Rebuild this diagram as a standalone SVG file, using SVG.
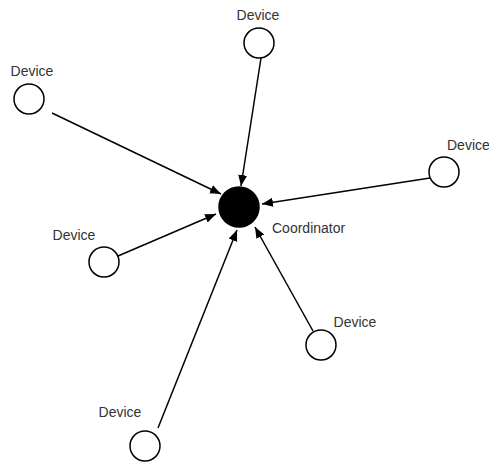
<svg xmlns="http://www.w3.org/2000/svg" width="489" height="462" viewBox="0 0 489 462">
  <style>
    .device { fill: #ffffff; stroke: #000000; stroke-width: 1.5; }
    .coord { fill: #000000; stroke: #000000; stroke-width: 1.5; }
    .label { font-family: "Liberation Sans", Arial, sans-serif; font-size: 14px; fill: #333333; }
    .link { stroke: #000000; stroke-width: 1.5; fill: none; marker-end: url(#arrow); }
  </style>
  <defs>
    <marker id="arrow" markerUnits="userSpaceOnUse" markerWidth="12" markerHeight="10" refX="11" refY="4.5" orient="auto">
      <path d="M0,0 L11,4.5 L0,9 Z" fill="#000000"/>
    </marker>
  </defs>
  <rect width="489" height="462" fill="#ffffff"/>

  <g id="connectors">
    <line class="link" x1="261" y1="58" x2="241" y2="186"/>
    <line class="link" x1="52" y1="113" x2="221" y2="194"/>
    <line class="link" x1="430" y1="178" x2="262" y2="204"/>
    <line class="link" x1="118" y1="256" x2="216" y2="214"/>
    <line class="link" x1="313" y1="331" x2="255" y2="227"/>
    <line class="link" x1="158" y1="428" x2="237" y2="230"/>
  </g>

  <g id="coordinator">
    <circle class="coord" cx="239" cy="207" r="20"/>
    <text class="label" x="272" y="233">Coordinator</text>
  </g>

  <g id="device-top">
    <circle class="device" cx="259" cy="43" r="15"/>
    <text class="label" x="258" y="20" text-anchor="middle">Device</text>
  </g>

  <g id="device-upper-left">
    <circle class="device" cx="29" cy="99" r="15"/>
    <text class="label" x="32" y="76" text-anchor="middle">Device</text>
  </g>

  <g id="device-right">
    <circle class="device" cx="444" cy="172" r="15"/>
    <text class="label" x="447" y="150">Device</text>
  </g>

  <g id="device-left">
    <circle class="device" cx="104" cy="262" r="15"/>
    <text class="label" x="74" y="240" text-anchor="middle">Device</text>
  </g>

  <g id="device-lower-right">
    <circle class="device" cx="321" cy="345" r="15"/>
    <text class="label" x="355" y="327" text-anchor="middle">Device</text>
  </g>

  <g id="device-bottom">
    <circle class="device" cx="145" cy="446" r="15"/>
    <text class="label" x="120" y="417" text-anchor="middle">Device</text>
  </g>
</svg>
